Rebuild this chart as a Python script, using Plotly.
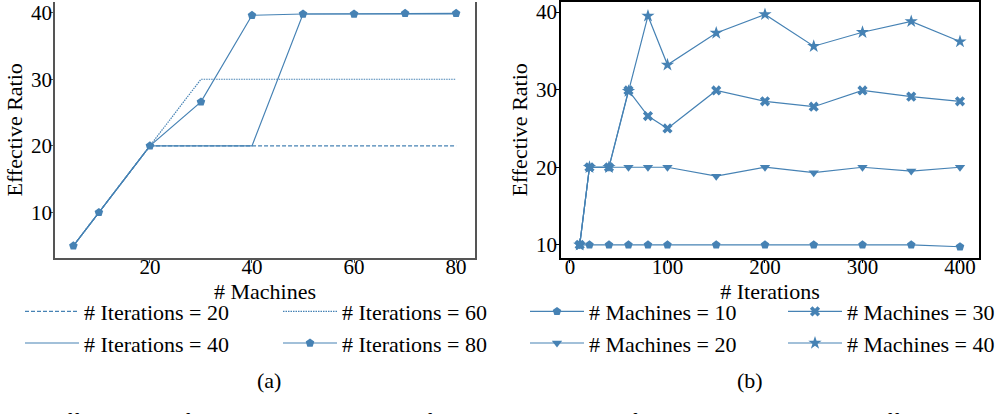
import plotly.graph_objects as go

# ---------------- data ----------------
machines = [5, 10, 20, 30, 40, 50, 60, 70, 80]
iter20 = [5, 10, 20, 20, 20, 20, 20, 20, 20]
iter60 = [5, 10, 20, 30, 30, 30, 30, 30, 30]
iter40 = [5, 10, 20, 20, 20, 39.8, 39.8, 39.8, 39.8]
iter80 = [5, 10, 20, 26.6, 39.6, 39.8, 39.8, 39.9, 39.9]

iterations = [10, 20, 40, 60, 80, 100, 150, 200, 250, 300, 350, 400]
mach10 = [10, 10, 10, 10, 10, 10, 10, 10, 10, 10, 10, 9.75]
mach20 = [10, 20, 20, 20, 20, 20, 18.85, 20, 19.3, 20, 19.5, 20]
mach30 = [10, 20, 20, 29.9, 26.6, 25.0, 29.9, 28.5, 27.8, 29.9, 29.1, 28.5]
mach40 = [10, 20, 20, 29.8, 39.5, 33.2, 37.3, 39.7, 35.6, 37.4, 38.8, 36.2]

left_xticks = [20, 40, 60, 80]
right_xticks = [0, 100, 200, 300, 400]
yticks = [10, 20, 30, 40]

# ---------------- style ----------------
W, H = 1002, 414
C = "#4682B4"
FONT = "Liberation Serif"


def px_x(p):
    return p / W


def px_y(p):
    return 1 - p / H


fig = go.Figure()

# left panel traces
fig.add_trace(go.Scatter(x=machines, y=iter20, mode="lines", name="# Iterations = 20",
                         line=dict(color=C, width=1.2, dash="4px,2px"),
                         xaxis="x", yaxis="y", legend="legend"))
fig.add_trace(go.Scatter(x=machines, y=iter40, mode="lines", name="# Iterations = 40",
                         line=dict(color=C, width=1.2),
                         xaxis="x", yaxis="y", legend="legend"))
fig.add_trace(go.Scatter(x=machines, y=iter60, mode="lines", name="# Iterations = 60",
                         line=dict(color=C, width=1.2, dash="1.5px,1px"),
                         xaxis="x", yaxis="y", legend="legend2"))
fig.add_trace(go.Scatter(x=machines, y=iter80, mode="lines+markers", name="# Iterations = 80",
                         line=dict(color=C, width=1.2),
                         marker=dict(symbol="pentagon", size=9, color=C),
                         xaxis="x", yaxis="y", legend="legend2"))

# right panel traces
fig.add_trace(go.Scatter(x=iterations, y=mach10, mode="lines+markers", name="# Machines = 10",
                         line=dict(color=C, width=1.2),
                         marker=dict(symbol="pentagon", size=9, color=C),
                         xaxis="x2", yaxis="y2", legend="legend3"))
fig.add_trace(go.Scatter(x=iterations, y=mach20, mode="lines+markers", name="# Machines = 20",
                         line=dict(color=C, width=1.2),
                         marker=dict(symbol="triangle-down", size=9, color=C),
                         xaxis="x2", yaxis="y2", legend="legend3"))
fig.add_trace(go.Scatter(x=iterations, y=mach30, mode="lines+markers", name="# Machines = 30",
                         line=dict(color=C, width=1.2),
                         marker=dict(symbol="x", size=9, color=C),
                         xaxis="x2", yaxis="y2", legend="legend4"))
fig.add_trace(go.Scatter(x=iterations, y=mach40, mode="lines+markers", name="# Machines = 40",
                         line=dict(color=C, width=1.2),
                         marker=dict(symbol="star", size=10, color=C),
                         xaxis="x2", yaxis="y2", legend="legend4"))

tickfont = dict(family=FONT, size=21, color="black")
titlefont = dict(family=FONT, size=22, color="black")

axis_common = dict(showgrid=False, zeroline=False, ticks="outside", ticklen=3,
                   tickwidth=1, tickfont=tickfont, showline=True)

bottom = px_y(257)

fig.update_layout(
    width=W, height=H,
    margin=dict(l=0, r=0, t=0, b=0),
    paper_bgcolor="white", plot_bgcolor="white",
    font=dict(family=FONT, size=22, color="black"),
    xaxis=dict(domain=[px_x(55), px_x(475)], range=[1.4, 83.7], tickvals=left_xticks,
               title=dict(text="# Machines", font=titlefont, standoff=0),
               linecolor="#555", linewidth=1.5, tickcolor="#555", mirror=False,
               ticklabelstandoff=-14, anchor="y", **axis_common),
    yaxis=dict(domain=[bottom, 1.0], range=[3.2, 41.6], tickvals=yticks,
               title=dict(text="Effective Ratio", font=titlefont, standoff=2),
               linecolor="#555", linewidth=1.5, tickcolor="#555", mirror=True,
               ticklabelstandoff=-6, anchor="x", **axis_common),
    xaxis2=dict(domain=[px_x(561), px_x(979)], range=[-9.2, 419.5], tickvals=right_xticks,
                title=dict(text="# Iterations", font=titlefont, standoff=0),
                linecolor="black", linewidth=1.5, tickcolor="black", mirror=True,
                ticklabelstandoff=-14, anchor="y2", **axis_common),
    yaxis2=dict(domain=[bottom, 1.0], range=[8.33, 41.3], tickvals=yticks,
                title=dict(text="Effective Ratio", font=titlefont, standoff=2),
                linecolor="black", linewidth=1.5, tickcolor="black", mirror=True,
                ticklabelstandoff=-5, anchor="x2", **axis_common),
    showlegend=True,
)

leg_common = dict(orientation="v", xanchor="left", yanchor="top", y=px_y(290),
                  bgcolor="rgba(0,0,0,0)", borderwidth=0, itemwidth=54,
                  font=dict(family=FONT, size=22, color="black"), tracegroupgap=0)
fig.update_layout(
    legend=dict(x=px_x(20), **leg_common),
    legend2=dict(x=px_x(278), **leg_common),
    legend3=dict(x=px_x(525), **leg_common),
    legend4=dict(x=px_x(783), **leg_common),
)

# subfigure labels and caption
fig.add_annotation(text="(a)", x=px_x(255), y=px_y(395), xref="paper", yref="paper",
                   showarrow=False, font=dict(family=FONT, size=22, color="black"))
fig.add_annotation(text="(b)", x=px_x(765), y=px_y(395), xref="paper", yref="paper",
                   showarrow=False, font=dict(family=FONT, size=22, color="black"))
fig.add_annotation(text="The effective ratio for the distribution scheme found by our approach for the SGD program with different",
                   x=px_x(13), y=px_y(406), xref="paper", yref="paper", xanchor="left", yanchor="top",
                   showarrow=False, font=dict(family=FONT, size=22, color="black"))

fig.write_html("out.html", config={"displayModeBar": False},
               post_script="document.body.style.margin='0px';document.body.style.overflow='hidden';")
